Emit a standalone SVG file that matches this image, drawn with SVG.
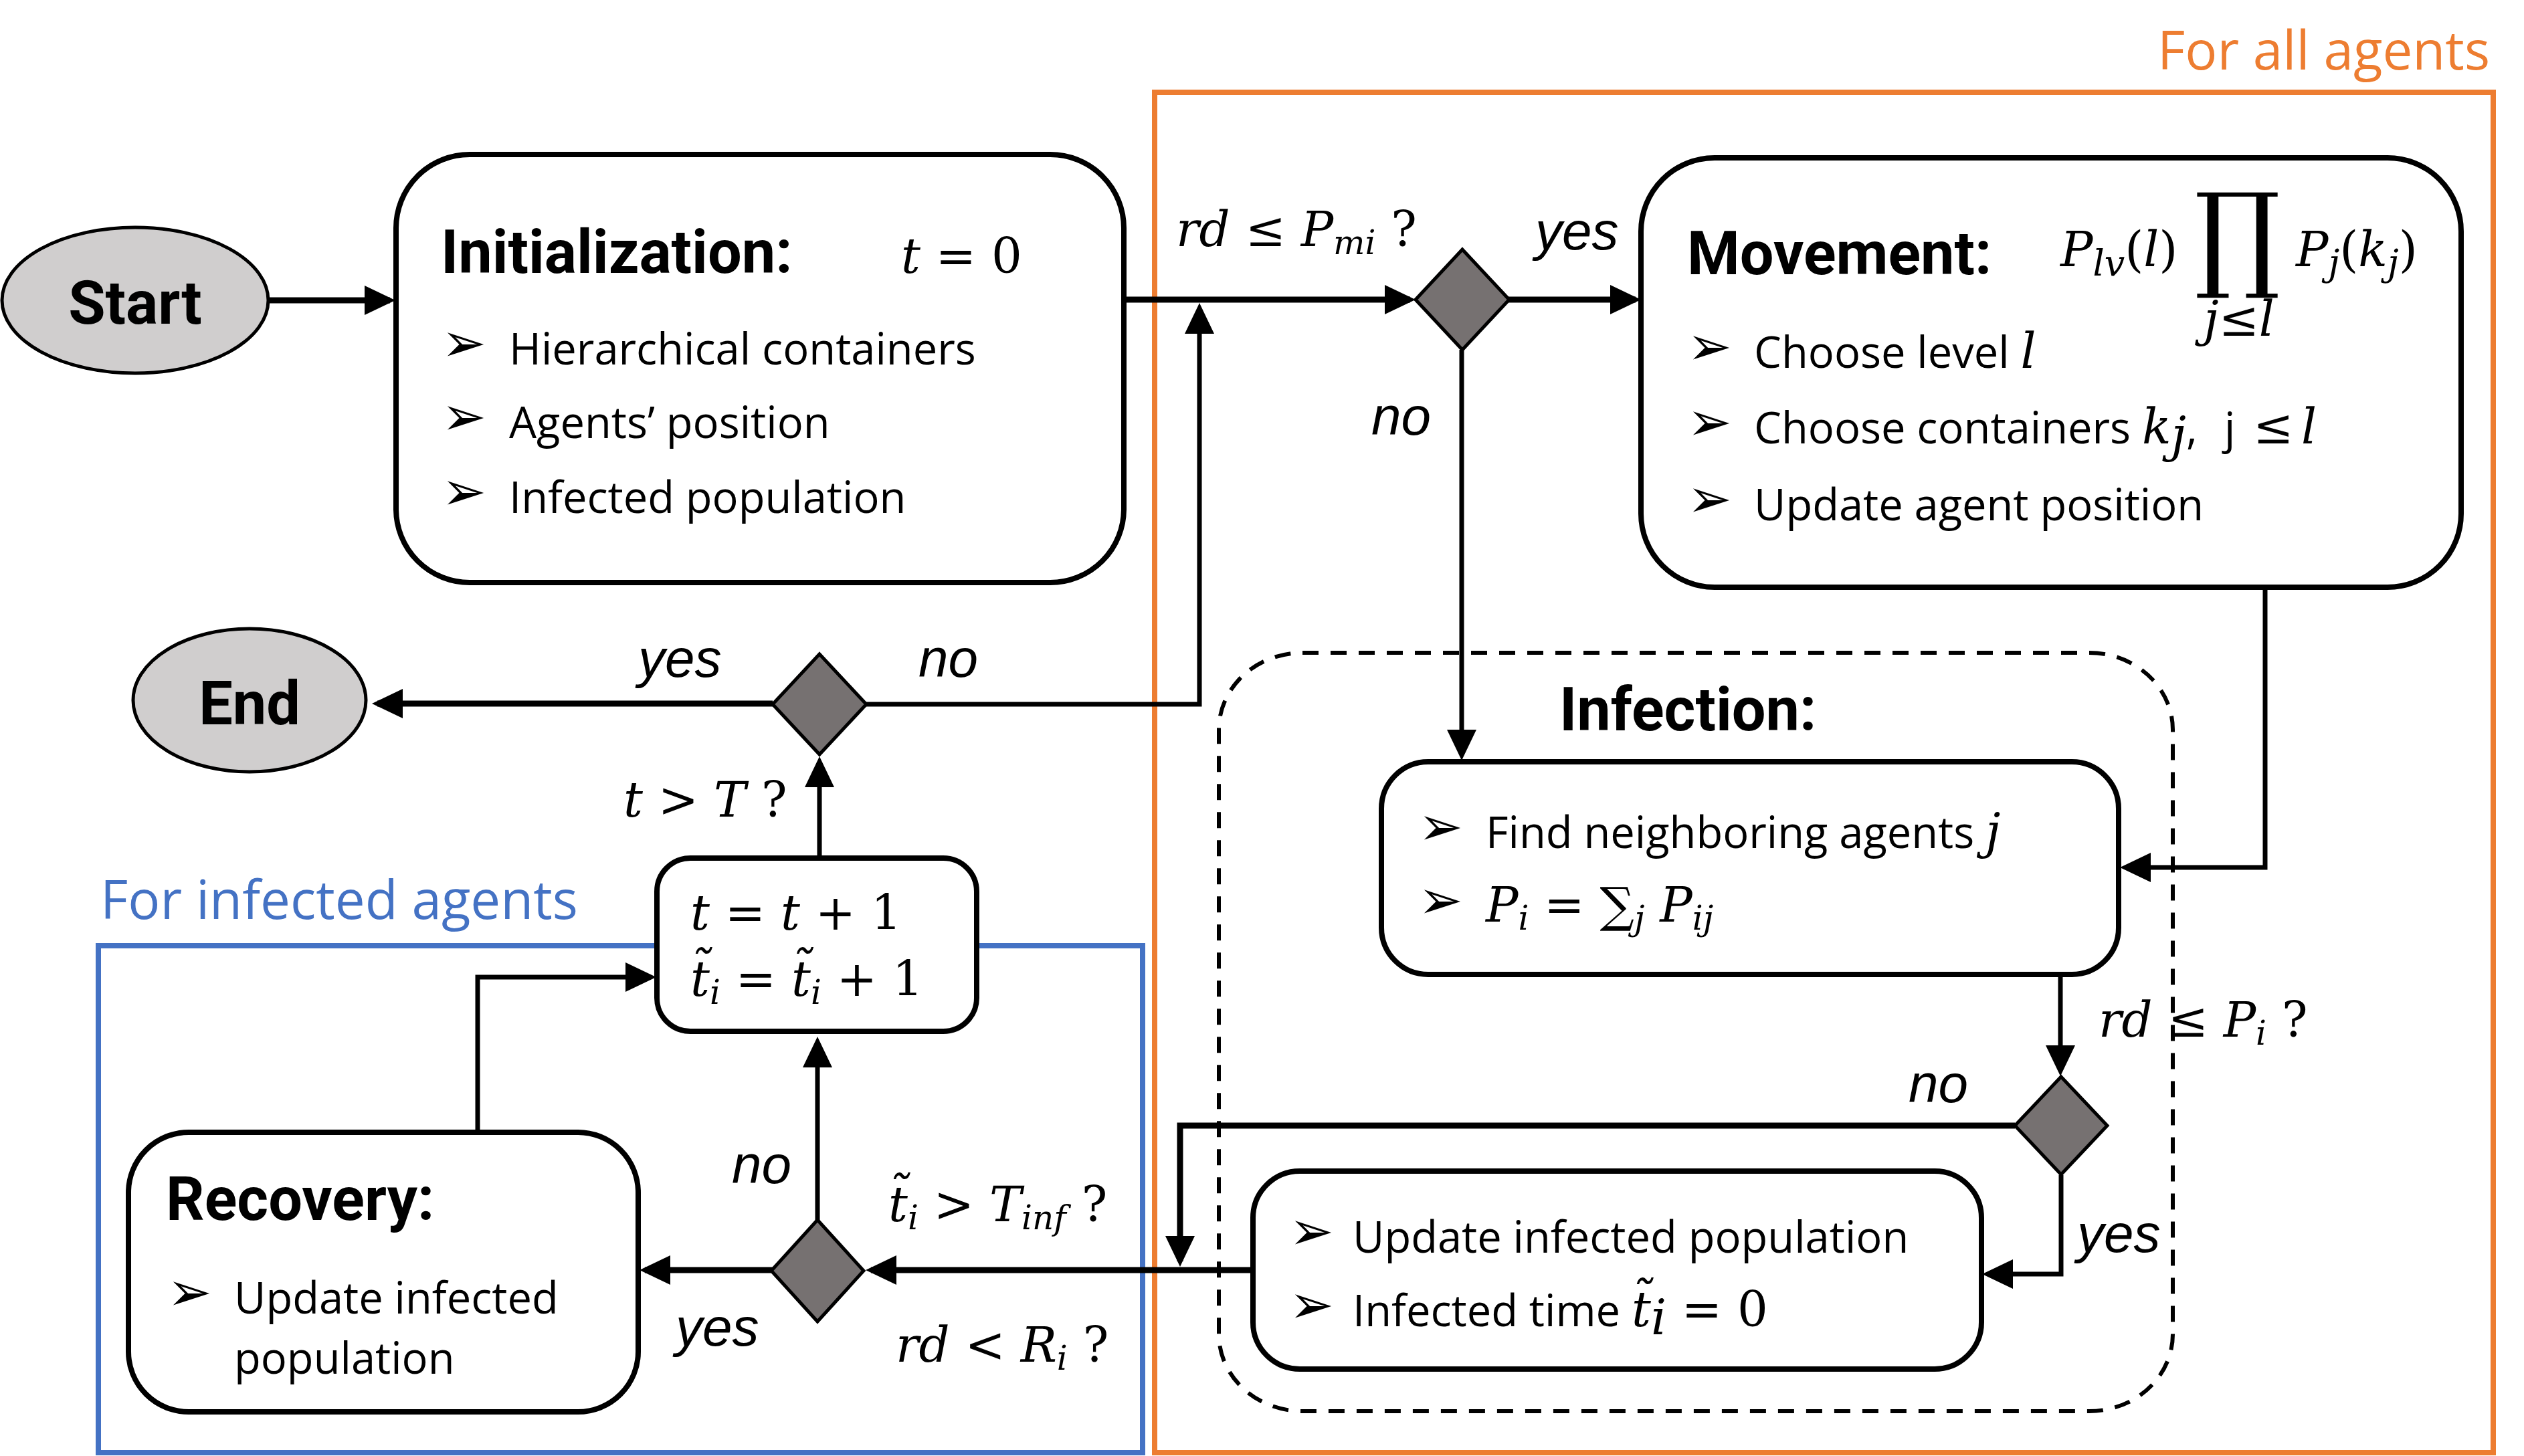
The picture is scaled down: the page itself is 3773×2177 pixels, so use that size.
<svg xmlns="http://www.w3.org/2000/svg" width="3773" height="2177" viewBox="0 0 3773 2177">
<style>
.box{fill:#fff;stroke:#000;stroke-width:8}
.term{fill:#D0CECE;stroke:#000;stroke-width:5}
.dia{fill:#767171;stroke:#000;stroke-width:5}
.ln{fill:none;stroke:#000;stroke-width:9;marker-end:url(#ah)}
.ln2{fill:none;stroke:#000;stroke-width:7;marker-end:url(#ah)}
.h{font-family:Roboto,"Liberation Sans",sans-serif;font-weight:bold;font-size:90px}
.b{font-family:"Open Sans","Liberation Sans",sans-serif;font-size:65px}
.bul{font-family:"DejaVu Sans",sans-serif;font-size:80px}
.lab{font-family:"Liberation Sans",Arial,sans-serif;font-style:italic;font-size:80px}
.m{font-family:"DejaVu Serif",serif;font-size:72px}
.mi{font-style:italic}
.grp{fill:none;stroke-width:8}
</style>
<defs>
<marker id="ah" markerUnits="userSpaceOnUse" markerWidth="46" markerHeight="44" refX="38" refY="22" orient="auto" viewBox="0 0 46 44"><path d="M0,0 L46,22 L0,44 z" fill="#000"/></marker>
</defs>
<rect width="3773" height="2177" fill="#fff"/>

<g id="group-all">
<rect class="grp" x="1726" y="138" width="2001" height="2034" stroke="#ED7D31"/>
<text x="3722" y="104" text-anchor="end" font-family="'Open Sans','Liberation Sans',sans-serif" font-size="80" fill="#ED7D31">For all agents</text>
</g>
<g id="group-infected">
<rect class="grp" x="147" y="1414" width="1561" height="758" stroke="#4472C4"/>
<text x="150" y="1374" font-family="'Open Sans','Liberation Sans',sans-serif" font-size="80" fill="#4472C4">For infected agents</text>
</g>
<g id="infection-group">
<rect x="1822" y="976" width="1426" height="1134" rx="125" ry="115" fill="none" stroke="#000" stroke-width="6" stroke-dasharray="24 18"/>
<text class="h" x="2331" y="1092" font-size="88">Infection:</text>
</g>

<g id="connectors">
<path class="ln" d="M402,449 H583"/>
<path class="ln" d="M1680,448 H2108"/>
<path class="ln" d="M2255,448 H2445"/>
<path class="ln2" d="M1295,1053 H1793 V461"/>
<path class="ln2" d="M2185,523 V1129"/>
<path class="ln2" d="M3386,878 V1297 H3177"/>
<path class="ln2" d="M3080,1457 V1601"/>
<path class="ln" d="M3012,1683 H1764 V1886"/>
<path class="ln2" d="M3081,1757 V1905 H2971"/>
<path class="ln" d="M1873,1899 H1302"/>
<path class="ln" d="M1155,1899 H964"/>
<path class="ln2" d="M1222,1824 V1558"/>
<path class="ln2" d="M714,1692 V1461 H973"/>
<path class="ln2" d="M1225,1283 V1139"/>
<path class="ln" d="M1155,1052 H564"/>
</g>

<g id="labels">
<text class="m" x="1758" y="368"><tspan class="mi">rd</tspan> ≤ <tspan class="mi">P</tspan><tspan class="mi" font-size="50" dy="12">mi</tspan><tspan dy="-12"> ?</tspan></text>
<text class="lab" x="2295" y="373">yes</text>
<text class="lab" x="2050" y="650">no</text>
<text class="lab" x="954" y="1012">yes</text>
<text class="lab" x="1373" y="1012">no</text>
<text class="m" x="932" y="1221"><tspan class="mi">t</tspan> &gt; <tspan class="mi">T</tspan> ?</text>
<text class="m" x="3137" y="1550"><tspan class="mi">rd</tspan> ≤ <tspan class="mi">P</tspan><tspan class="mi" font-size="50" dy="12">i</tspan><tspan dy="-12"> ?</tspan></text>
<text class="lab" x="2853" y="1648">no</text>
<text class="lab" x="3105" y="1872">yes</text>
<text class="lab" x="1094" y="1769">no</text>
<text class="m" x="1328" y="1826"><tspan class="mi">t̃</tspan><tspan class="mi" font-size="50" dy="12">i</tspan><tspan dy="-12"> &gt; </tspan><tspan class="mi">T</tspan><tspan class="mi" font-size="50" dy="12">inf</tspan><tspan dy="-12"> ?</tspan></text>
<text class="lab" x="1010" y="2012">yes</text>
<text class="m" x="1339" y="2036"><tspan class="mi">rd</tspan> &lt; <tspan class="mi">R</tspan><tspan class="mi" font-size="50" dy="12">i</tspan><tspan dy="-12"> ?</tspan></text>
</g>

<g id="start">
<ellipse class="term" cx="202" cy="449" rx="199" ry="109"/>
<text class="h" x="202" y="484" text-anchor="middle" font-size="98">Start</text>
</g>
<g id="end">
<ellipse class="term" cx="373" cy="1047" rx="174" ry="107"/>
<text class="h" x="373" y="1083" text-anchor="middle" font-size="98">End</text>
</g>

<g id="initialization">
<rect class="box" x="592" y="231" width="1088" height="640" rx="110"/>
<text class="h" x="659" y="408">Initialization:</text>
<text class="m" x="1347" y="408" font-size="80"><tspan class="mi">t</tspan> = 0</text>
<text class="bul" x="660" y="540">➢</text>
<text class="b" x="761" y="545">Hierarchical containers</text>
<text class="bul" x="660" y="650">➢</text>
<text class="b" x="761" y="655">Agents’ position</text>
<text class="bul" x="660" y="762">➢</text>
<text class="b" x="761" y="767">Infected population</text>
</g>

<g id="decision-move">
<polygon class="dia" points="2186,373 2256,448 2186,523 2116,448"/>
</g>

<g id="movement">
<rect class="box" x="2453" y="236" width="1226" height="642" rx="110"/>
<text class="h" x="2522" y="410">Movement:</text>
<text class="m" x="3080" y="398" font-size="80"><tspan class="mi">P</tspan><tspan class="mi" font-size="54" dy="14">lv</tspan><tspan dy="-14">(</tspan><tspan class="mi">l</tspan>)</text>
<text class="m" font-size="150" transform="translate(3280,412) scale(2.25,2.4)">∏</text>
<text class="m" x="3347" y="502" font-size="56" text-anchor="middle"><tspan class="mi">j</tspan>≤<tspan class="mi">l</tspan></text>
<text class="m" x="3432" y="398" font-size="80"><tspan class="mi">P</tspan><tspan class="mi" font-size="54" dy="14">j</tspan><tspan dy="-14">(</tspan><tspan class="mi">k</tspan><tspan class="mi" font-size="54" dy="14">j</tspan><tspan dy="-14">)</tspan></text>
<text class="bul" x="2522" y="545">➢</text>
<text class="b" x="2622" y="550">Choose level <tspan class="m mi">l</tspan></text>
<text class="bul" x="2522" y="658">➢</text>
<text class="b" x="2622" y="663">Choose containers <tspan class="m mi">k</tspan><tspan class="m mi" font-size="50" dy="12">j</tspan><tspan dy="-12">,</tspan><tspan x="3325">j</tspan><tspan x="3368" class="m">≤</tspan><tspan x="3440" class="m mi">l</tspan></text>
<text class="bul" x="2522" y="773">➢</text>
<text class="b" x="2622" y="778">Update agent position</text>
</g>

<g id="find">
<rect class="box" x="2065" y="1139" width="1102" height="318" rx="70"/>
<text class="bul" x="2120" y="1263">➢</text>
<text class="b" x="2221" y="1268">Find neighboring agents <tspan class="m mi">j</tspan></text>
<text class="bul" x="2120" y="1373">➢</text>
<text class="m" x="2221" y="1378"><tspan class="mi">P</tspan><tspan class="mi" font-size="50" dy="12">i</tspan><tspan dy="-12"> = ∑</tspan><tspan class="mi" font-size="50" dy="12">j</tspan><tspan class="mi" dy="-12"> P</tspan><tspan class="mi" font-size="50" dy="12">ij</tspan></text>
</g>

<g id="decision-infect">
<polygon class="dia" points="3081,1610 3150,1683 3081,1756 3012,1683"/>
</g>

<g id="update">
<rect class="box" x="1873" y="1751" width="1089" height="296" rx="70"/>
<text class="bul" x="1927" y="1868">➢</text>
<text class="b" x="2022" y="1873">Update infected population</text>
<text class="bul" x="1927" y="1978">➢</text>
<text class="b" x="2022" y="1983">Infected time <tspan class="m mi">t̃</tspan><tspan class="m mi" font-size="50" dy="12">i</tspan><tspan class="m" dy="-12"> = 0</tspan></text>
</g>

<g id="decision-recover">
<polygon class="dia" points="1222,1824 1291,1900 1222,1976 1153,1900"/>
</g>

<g id="recovery">
<rect class="box" x="192" y="1693" width="762" height="418" rx="90"/>
<text class="h" x="248" y="1824" font-size="88">Recovery:</text>
<text class="bul" x="250" y="1959">➢</text>
<text class="b" x="350" y="1964">Update infected</text>
<text class="b" x="350" y="2054">population</text>
</g>

<g id="time-step">
<rect class="box" x="982" y="1283" width="478" height="259" rx="50"/>
<text class="m" x="1032" y="1390"><tspan class="mi">t</tspan> = <tspan class="mi">t</tspan> + 1</text>
<text class="m" x="1032" y="1489"><tspan class="mi">t̃</tspan><tspan class="mi" font-size="50" dy="12">i</tspan><tspan dy="-12"> = </tspan><tspan class="mi">t̃</tspan><tspan class="mi" font-size="50" dy="12">i</tspan><tspan dy="-12"> + 1</tspan></text>
</g>

<g id="decision-end">
<polygon class="dia" points="1225,978 1295,1053 1225,1128 1155,1053"/>
</g>
</svg>
